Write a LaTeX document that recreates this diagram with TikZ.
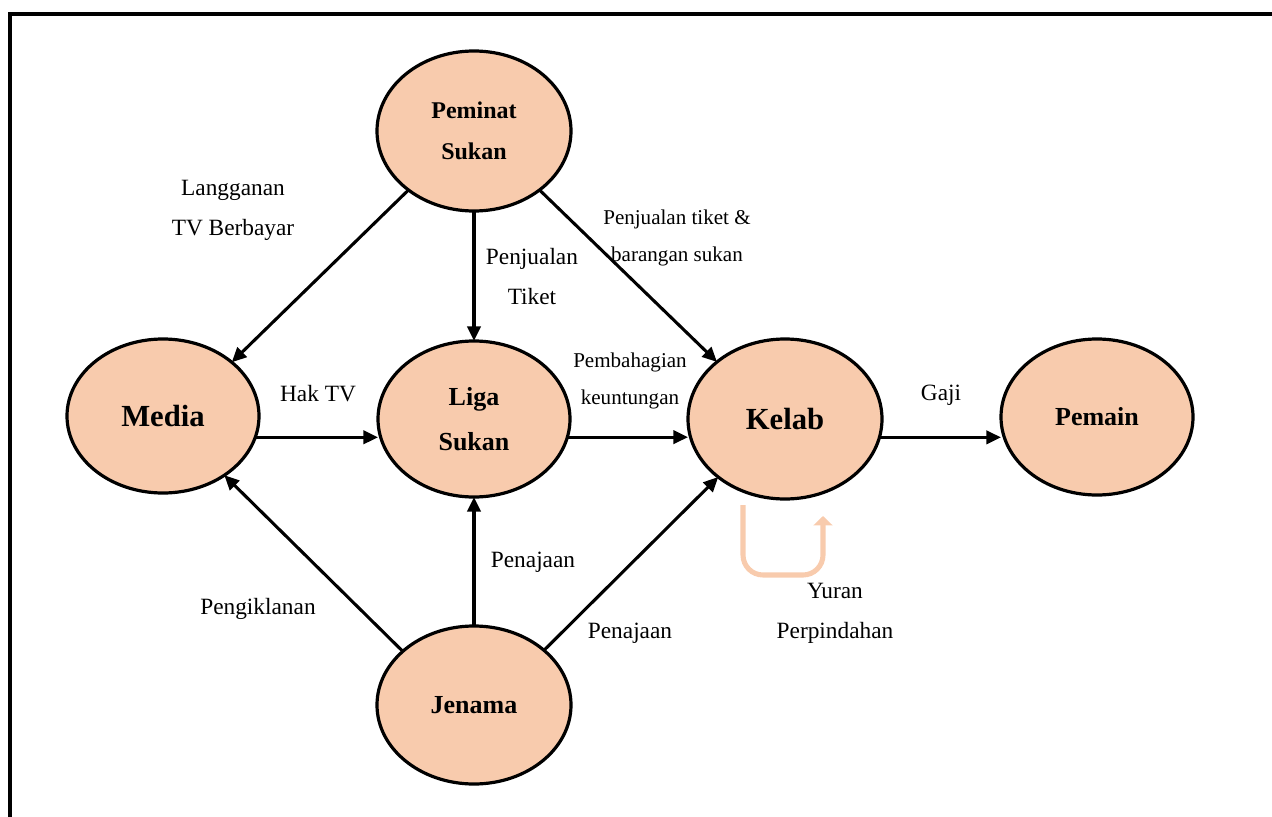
\documentclass[tikz,border=0pt]{standalone}
\usepackage{fontspec}
\setmainfont{Liberation Serif}
\usetikzlibrary{shapes.geometric,arrows.meta}
\definecolor{peach}{HTML}{F8CBAD}
\tikzset{
  ent/.style={ellipse, draw=black, line width=2.4pt, fill=peach, inner sep=0pt, outer sep=0pt, align=center, font=\bfseries},
  arr/.style={line width=2.3pt, -{Triangle[length=11pt,width=10pt]}},
  lbl/.style={align=center, inner sep=0pt, font=\fontsize{17.5}{30}\selectfont},
  slbl/.style={align=center, inner sep=0pt, font=\fontsize{15.8}{27.5}\selectfont},
  loopar/.style={draw=peach, line width=3.8pt, rounded corners=15pt, -{Triangle[length=7pt,width=14pt]}}
}
\begin{document}
\begin{tikzpicture}[x=0.75pt,y=-0.75pt]
\useasboundingbox (0,0) rectangle (1272,817);
% frame
\draw[line width=3pt] (9.5,817) -- (9.5,14) -- (1272,14);
% nodes
\node[ent, minimum width=145.5pt, minimum height=120pt, font=\bfseries\fontsize{18}{30.75}\selectfont] (pem) at (474,131) {Peminat\\Sukan};
\node[ent, minimum width=144pt, minimum height=115.5pt, font=\bfseries\fontsize{23}{28}\selectfont] (med) at (163,416) {Media};
\node[ent, minimum width=144pt, minimum height=117pt, font=\bfseries\fontsize{19.5}{33.75}\selectfont] (liga) at (474,419) {Liga\\Sukan};
\node[ent, minimum width=145.5pt, minimum height=120pt, font=\bfseries\fontsize{23}{28}\selectfont] (kel) at (785,419) {Kelab};
\node[ent, minimum width=144pt, minimum height=117pt, font=\bfseries\fontsize{19.5}{24}\selectfont] (pmn) at (1097,417) {Pemain};
\node[ent, minimum width=145.5pt, minimum height=118.5pt, font=\bfseries\fontsize{19.5}{24}\selectfont] (jen) at (474,705) {Jenama};
% connectors
\draw[arr] (pem.-138) -- (med.38);
\draw[arr] (pem.south) -- (liga.north);
\draw[arr] (pem.-42) -- (kel.140);
\draw[arr] (med.-13) -- (med.-13 -| liga.west);
\draw[arr] (liga.-11) -- (liga.-11 -| kel.west);
\draw[arr] (kel.-11) -- (kel.-11 -| pmn.west);
\draw[arr] (jen.143) -- (med.-44);
\draw[arr] (jen.north) -- (liga.south);
\draw[arr] (jen.38) -- (kel.-139);
% loop
\coordinate (ys) at (743,505);
\coordinate (ye) at (823,516);
\draw[loopar] (ys) |- (783,575) -| (ye);
% labels
\node[lbl] (l1) at (233,210) {Langganan\\TV Berbayar};
\node[lbl] (l2) at (532,277) {Penjualan\\Tiket};
\node[slbl] (l3) at (677,238) {Penjualan tiket \&\\barangan sukan};
\node[slbl] (l4) at (630,381) {Pembahagian\\keuntungan};
\node[lbl] (l5) at (318,394) {Hak TV};
\node[lbl] (l6) at (941,395) {Gaji};
\node[lbl] (l7) at (533,562) {Penajaan};
\node[lbl] (l8) at (258,609) {Pengiklanan};
\node[lbl] (l9) at (630,633) {Penajaan};
\node[lbl] (l10) at (835,613) {Yuran\\Perpindahan};
\end{tikzpicture}
\end{document}
